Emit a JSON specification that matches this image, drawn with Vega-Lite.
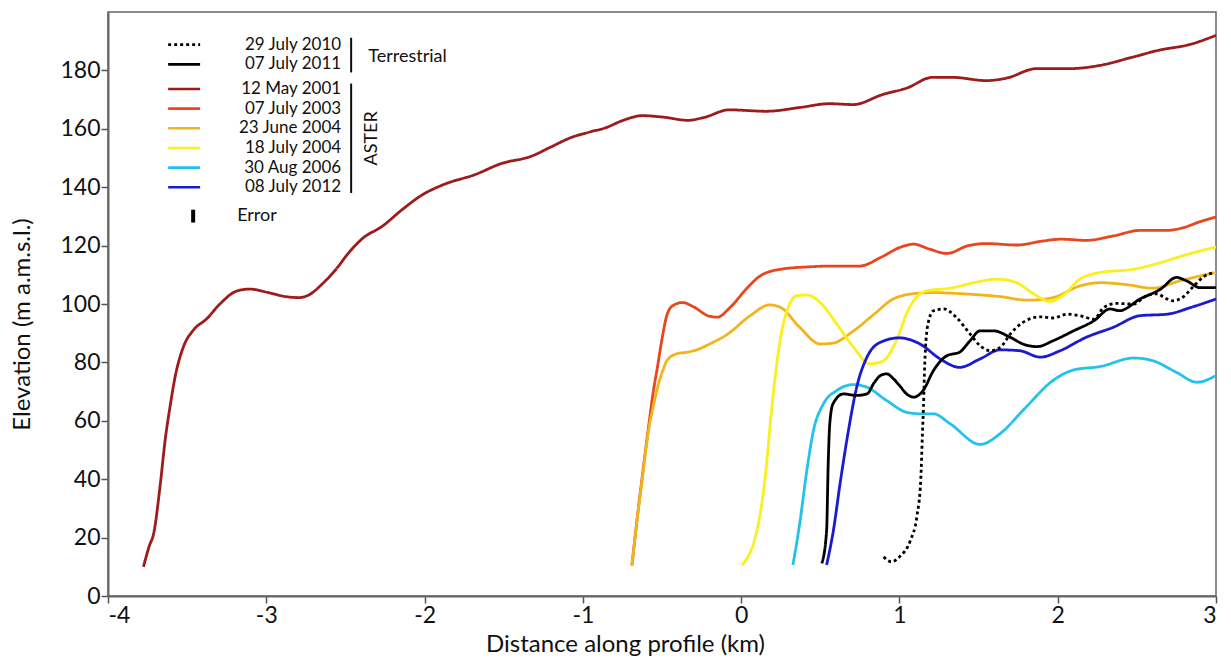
{
  "$schema": "https://vega.github.io/schema/vega-lite/v6.json",
  "width": 1108,
  "height": 584,
  "autosize": {"type": "none"},
  "padding": {"left": 108, "top": 12, "right": 15, "bottom": 74},
  "config": {
    "font": "Lato",
    "view": {"stroke": "#666666", "strokeWidth": 1.5},
    "axis": {"grid": false, "domainColor": "#666666", "domainWidth": 2, "tickColor": "#555555", "tickWidth": 1.5, "tickSize": 7, "labelFont": "Lato", "labelFontSize": 23, "labelColor": "#111111", "titleFont": "Lato", "titleFontSize": 24, "titleFontWeight": "normal", "titleColor": "#111111"}
  },
  "resolve": {"scale": {"y": "independent"}},
  "layer": [
    {
      "layer": [
        {
          "data": {"values": [
            {"series": "12 May 2001", "distance": -3.776, "elevation": 10},
            {"series": "12 May 2001", "distance": -3.74, "elevation": 17},
            {"series": "12 May 2001", "distance": -3.711, "elevation": 21.5},
            {"series": "12 May 2001", "distance": -3.669, "elevation": 38.6},
            {"series": "12 May 2001", "distance": -3.638, "elevation": 53.8},
            {"series": "12 May 2001", "distance": -3.607, "elevation": 65.2},
            {"series": "12 May 2001", "distance": -3.575, "elevation": 75.3},
            {"series": "12 May 2001", "distance": -3.523, "elevation": 85.4},
            {"series": "12 May 2001", "distance": -3.46, "elevation": 91.1},
            {"series": "12 May 2001", "distance": -3.377, "elevation": 94.9},
            {"series": "12 May 2001", "distance": -3.293, "elevation": 100},
            {"series": "12 May 2001", "distance": -3.188, "elevation": 104.4},
            {"series": "12 May 2001", "distance": -3.105, "elevation": 105.1},
            {"series": "12 May 2001", "distance": -2.979, "elevation": 103.8},
            {"series": "12 May 2001", "distance": -2.874, "elevation": 102.5},
            {"series": "12 May 2001", "distance": -2.791, "elevation": 102.2},
            {"series": "12 May 2001", "distance": -2.728, "elevation": 103.2},
            {"series": "12 May 2001", "distance": -2.644, "elevation": 107},
            {"series": "12 May 2001", "distance": -2.561, "elevation": 111.8},
            {"series": "12 May 2001", "distance": -2.477, "elevation": 117.7},
            {"series": "12 May 2001", "distance": -2.393, "elevation": 122.4},
            {"series": "12 May 2001", "distance": -2.268, "elevation": 126.6},
            {"series": "12 May 2001", "distance": -2.142, "elevation": 132.3},
            {"series": "12 May 2001", "distance": -2.017, "elevation": 137.3},
            {"series": "12 May 2001", "distance": -1.87, "elevation": 141.1},
            {"series": "12 May 2001", "distance": -1.682, "elevation": 144.3},
            {"series": "12 May 2001", "distance": -1.515, "elevation": 148.1},
            {"series": "12 May 2001", "distance": -1.326, "elevation": 150.6},
            {"series": "12 May 2001", "distance": -1.201, "elevation": 153.8},
            {"series": "12 May 2001", "distance": -1.075, "elevation": 157},
            {"series": "12 May 2001", "distance": -0.95, "elevation": 159},
            {"series": "12 May 2001", "distance": -0.859, "elevation": 160.3},
            {"series": "12 May 2001", "distance": -0.75, "elevation": 162.8},
            {"series": "12 May 2001", "distance": -0.625, "elevation": 164.5},
            {"series": "12 May 2001", "distance": -0.493, "elevation": 164},
            {"series": "12 May 2001", "distance": -0.335, "elevation": 162.9},
            {"series": "12 May 2001", "distance": -0.234, "elevation": 163.9},
            {"series": "12 May 2001", "distance": -0.076, "elevation": 166.5},
            {"series": "12 May 2001", "distance": 0.158, "elevation": 166},
            {"series": "12 May 2001", "distance": 0.372, "elevation": 167.3},
            {"series": "12 May 2001", "distance": 0.556, "elevation": 168.6},
            {"series": "12 May 2001", "distance": 0.708, "elevation": 168.3},
            {"series": "12 May 2001", "distance": 0.892, "elevation": 171.7},
            {"series": "12 May 2001", "distance": 1.049, "elevation": 174},
            {"series": "12 May 2001", "distance": 1.207, "elevation": 177.6},
            {"series": "12 May 2001", "distance": 1.339, "elevation": 177.6},
            {"series": "12 May 2001", "distance": 1.548, "elevation": 176.5},
            {"series": "12 May 2001", "distance": 1.68, "elevation": 177.4},
            {"series": "12 May 2001", "distance": 1.864, "elevation": 180.6},
            {"series": "12 May 2001", "distance": 2.072, "elevation": 180.6},
            {"series": "12 May 2001", "distance": 2.255, "elevation": 181.6},
            {"series": "12 May 2001", "distance": 2.464, "elevation": 184.4},
            {"series": "12 May 2001", "distance": 2.647, "elevation": 187},
            {"series": "12 May 2001", "distance": 2.83, "elevation": 188.8},
            {"series": "12 May 2001", "distance": 3.0, "elevation": 192},

            {"series": "07 July 2003", "distance": -0.69, "elevation": 10.5},
            {"series": "07 July 2003", "distance": -0.66, "elevation": 25},
            {"series": "07 July 2003", "distance": -0.62, "elevation": 43},
            {"series": "07 July 2003", "distance": -0.58, "elevation": 60},
            {"series": "07 July 2003", "distance": -0.555, "elevation": 70},
            {"series": "07 July 2003", "distance": -0.53, "elevation": 78},
            {"series": "07 July 2003", "distance": -0.5, "elevation": 88},
            {"series": "07 July 2003", "distance": -0.47, "elevation": 96},
            {"series": "07 July 2003", "distance": -0.43, "elevation": 99.5},
            {"series": "07 July 2003", "distance": -0.37, "elevation": 100.5},
            {"series": "07 July 2003", "distance": -0.3, "elevation": 99},
            {"series": "07 July 2003", "distance": -0.2, "elevation": 95.8},
            {"series": "07 July 2003", "distance": -0.15, "elevation": 95.5},
            {"series": "07 July 2003", "distance": -0.07, "elevation": 98.8},
            {"series": "07 July 2003", "distance": 0.04, "elevation": 105.6},
            {"series": "07 July 2003", "distance": 0.12, "elevation": 109.6},
            {"series": "07 July 2003", "distance": 0.25, "elevation": 111.9},
            {"series": "07 July 2003", "distance": 0.42, "elevation": 112.7},
            {"series": "07 July 2003", "distance": 0.58, "elevation": 113},
            {"series": "07 July 2003", "distance": 0.75, "elevation": 113},
            {"series": "07 July 2003", "distance": 0.88, "elevation": 115.9},
            {"series": "07 July 2003", "distance": 1.0, "elevation": 119.3},
            {"series": "07 July 2003", "distance": 1.09, "elevation": 120.5},
            {"series": "07 July 2003", "distance": 1.19, "elevation": 118.8},
            {"series": "07 July 2003", "distance": 1.3, "elevation": 117.3},
            {"series": "07 July 2003", "distance": 1.43, "elevation": 119.9},
            {"series": "07 July 2003", "distance": 1.55, "elevation": 120.7},
            {"series": "07 July 2003", "distance": 1.74, "elevation": 120.2},
            {"series": "07 July 2003", "distance": 1.91, "elevation": 121.6},
            {"series": "07 July 2003", "distance": 2.02, "elevation": 122.2},
            {"series": "07 July 2003", "distance": 2.18, "elevation": 121.8},
            {"series": "07 July 2003", "distance": 2.35, "elevation": 123.3},
            {"series": "07 July 2003", "distance": 2.52, "elevation": 125.2},
            {"series": "07 July 2003", "distance": 2.69, "elevation": 125.2},
            {"series": "07 July 2003", "distance": 2.79, "elevation": 126.1},
            {"series": "07 July 2003", "distance": 2.9, "elevation": 128.2},
            {"series": "07 July 2003", "distance": 3.0, "elevation": 129.8},

            {"series": "23 June 2004", "distance": -0.69, "elevation": 10.5},
            {"series": "23 June 2004", "distance": -0.66, "elevation": 25},
            {"series": "23 June 2004", "distance": -0.62, "elevation": 42},
            {"series": "23 June 2004", "distance": -0.59, "elevation": 55},
            {"series": "23 June 2004", "distance": -0.556, "elevation": 64.7},
            {"series": "23 June 2004", "distance": -0.52, "elevation": 73},
            {"series": "23 June 2004", "distance": -0.49, "elevation": 78},
            {"series": "23 June 2004", "distance": -0.47, "elevation": 80.5},
            {"series": "23 June 2004", "distance": -0.41, "elevation": 82.9},
            {"series": "23 June 2004", "distance": -0.34, "elevation": 83.5},
            {"series": "23 June 2004", "distance": -0.28, "elevation": 84.3},
            {"series": "23 June 2004", "distance": -0.2, "elevation": 86.3},
            {"series": "23 June 2004", "distance": -0.09, "elevation": 89.5},
            {"series": "23 June 2004", "distance": 0.057, "elevation": 96},
            {"series": "23 June 2004", "distance": 0.18, "elevation": 99.7},
            {"series": "23 June 2004", "distance": 0.25, "elevation": 98.8},
            {"series": "23 June 2004", "distance": 0.37, "elevation": 92},
            {"series": "23 June 2004", "distance": 0.5, "elevation": 86.3},
            {"series": "23 June 2004", "distance": 0.58, "elevation": 86.6},
            {"series": "23 June 2004", "distance": 0.71, "elevation": 90.8},
            {"series": "23 June 2004", "distance": 0.84, "elevation": 96.5},
            {"series": "23 June 2004", "distance": 0.96, "elevation": 101.7},
            {"series": "23 June 2004", "distance": 1.1, "elevation": 103.6},
            {"series": "23 June 2004", "distance": 1.21, "elevation": 103.9},
            {"series": "23 June 2004", "distance": 1.43, "elevation": 103.4},
            {"series": "23 June 2004", "distance": 1.64, "elevation": 102.5},
            {"series": "23 June 2004", "distance": 1.81, "elevation": 101.3},
            {"series": "23 June 2004", "distance": 1.97, "elevation": 102.2},
            {"series": "23 June 2004", "distance": 2.14, "elevation": 106.2},
            {"series": "23 June 2004", "distance": 2.27, "elevation": 107.3},
            {"series": "23 June 2004", "distance": 2.44, "elevation": 106.6},
            {"series": "23 June 2004", "distance": 2.6, "elevation": 105.4},
            {"series": "23 June 2004", "distance": 2.77, "elevation": 107.9},
            {"series": "23 June 2004", "distance": 2.9, "elevation": 109.6},
            {"series": "23 June 2004", "distance": 3.0, "elevation": 110.8},

            {"series": "18 July 2004", "distance": 0.004, "elevation": 10.6},
            {"series": "18 July 2004", "distance": 0.1, "elevation": 22.5},
            {"series": "18 July 2004", "distance": 0.15, "elevation": 39.6},
            {"series": "18 July 2004", "distance": 0.19, "elevation": 62.4},
            {"series": "18 July 2004", "distance": 0.225, "elevation": 79.5},
            {"series": "18 July 2004", "distance": 0.257, "elevation": 90.8},
            {"series": "18 July 2004", "distance": 0.29, "elevation": 97.7},
            {"series": "18 July 2004", "distance": 0.35, "elevation": 102.8},
            {"series": "18 July 2004", "distance": 0.415, "elevation": 103.1},
            {"series": "18 July 2004", "distance": 0.5, "elevation": 100.5},
            {"series": "18 July 2004", "distance": 0.605, "elevation": 93.1},
            {"series": "18 July 2004", "distance": 0.71, "elevation": 85.2},
            {"series": "18 July 2004", "distance": 0.815, "elevation": 79.5},
            {"series": "18 July 2004", "distance": 0.9, "elevation": 80.6},
            {"series": "18 July 2004", "distance": 0.96, "elevation": 85.2},
            {"series": "18 July 2004", "distance": 1.0, "elevation": 90},
            {"series": "18 July 2004", "distance": 1.04, "elevation": 96},
            {"series": "18 July 2004", "distance": 1.09, "elevation": 101.1},
            {"series": "18 July 2004", "distance": 1.17, "elevation": 104.5},
            {"series": "18 July 2004", "distance": 1.32, "elevation": 105.4},
            {"series": "18 July 2004", "distance": 1.47, "elevation": 107.3},
            {"series": "18 July 2004", "distance": 1.62, "elevation": 108.5},
            {"series": "18 July 2004", "distance": 1.74, "elevation": 107.3},
            {"series": "18 July 2004", "distance": 1.85, "elevation": 103.4},
            {"series": "18 July 2004", "distance": 1.95, "elevation": 100.9},
            {"series": "18 July 2004", "distance": 2.03, "elevation": 102.8},
            {"series": "18 July 2004", "distance": 2.14, "elevation": 108.5},
            {"series": "18 July 2004", "distance": 2.27, "elevation": 110.8},
            {"series": "18 July 2004", "distance": 2.48, "elevation": 111.9},
            {"series": "18 July 2004", "distance": 2.65, "elevation": 114.2},
            {"series": "18 July 2004", "distance": 2.82, "elevation": 117},
            {"series": "18 July 2004", "distance": 3.0, "elevation": 119.5},

            {"series": "30 Aug 2006", "distance": 0.327, "elevation": 10.6},
            {"series": "30 Aug 2006", "distance": 0.37, "elevation": 24.8},
            {"series": "30 Aug 2006", "distance": 0.415, "elevation": 43},
            {"series": "30 Aug 2006", "distance": 0.457, "elevation": 56.7},
            {"series": "30 Aug 2006", "distance": 0.52, "elevation": 65.8},
            {"series": "30 Aug 2006", "distance": 0.605, "elevation": 70.4},
            {"series": "30 Aug 2006", "distance": 0.71, "elevation": 72.4},
            {"series": "30 Aug 2006", "distance": 0.795, "elevation": 71.5},
            {"series": "30 Aug 2006", "distance": 0.92, "elevation": 66.9},
            {"series": "30 Aug 2006", "distance": 1.047, "elevation": 62.9},
            {"series": "30 Aug 2006", "distance": 1.13, "elevation": 62.4},
            {"series": "30 Aug 2006", "distance": 1.215, "elevation": 62.4},
            {"series": "30 Aug 2006", "distance": 1.32, "elevation": 59},
            {"series": "30 Aug 2006", "distance": 1.51, "elevation": 51.9},
            {"series": "30 Aug 2006", "distance": 1.636, "elevation": 55.6},
            {"series": "30 Aug 2006", "distance": 1.8, "elevation": 64.7},
            {"series": "30 Aug 2006", "distance": 1.97, "elevation": 73.8},
            {"series": "30 Aug 2006", "distance": 2.1, "elevation": 77.4},
            {"series": "30 Aug 2006", "distance": 2.27, "elevation": 78.6},
            {"series": "30 Aug 2006", "distance": 2.48, "elevation": 81.5},
            {"series": "30 Aug 2006", "distance": 2.6, "elevation": 80.6},
            {"series": "30 Aug 2006", "distance": 2.75, "elevation": 76.6},
            {"series": "30 Aug 2006", "distance": 2.88, "elevation": 73.2},
            {"series": "30 Aug 2006", "distance": 3.0, "elevation": 75.5},

            {"series": "08 July 2012", "distance": 0.54, "elevation": 10.6},
            {"series": "08 July 2012", "distance": 0.583, "elevation": 22.5},
            {"series": "08 July 2012", "distance": 0.625, "elevation": 38.5},
            {"series": "08 July 2012", "distance": 0.678, "elevation": 56.7},
            {"series": "08 July 2012", "distance": 0.73, "elevation": 71.5},
            {"series": "08 July 2012", "distance": 0.795, "elevation": 81.8},
            {"series": "08 July 2012", "distance": 0.88, "elevation": 86.9},
            {"series": "08 July 2012", "distance": 1.0, "elevation": 88.4},
            {"series": "08 July 2012", "distance": 1.13, "elevation": 86.3},
            {"series": "08 July 2012", "distance": 1.257, "elevation": 81.2},
            {"series": "08 July 2012", "distance": 1.38, "elevation": 78.3},
            {"series": "08 July 2012", "distance": 1.51, "elevation": 81.2},
            {"series": "08 July 2012", "distance": 1.636, "elevation": 84.3},
            {"series": "08 July 2012", "distance": 1.76, "elevation": 84},
            {"series": "08 July 2012", "distance": 1.89, "elevation": 81.8},
            {"series": "08 July 2012", "distance": 2.015, "elevation": 84},
            {"series": "08 July 2012", "distance": 2.18, "elevation": 88.6},
            {"series": "08 July 2012", "distance": 2.35, "elevation": 92},
            {"series": "08 July 2012", "distance": 2.52, "elevation": 96},
            {"series": "08 July 2012", "distance": 2.69, "elevation": 96.5},
            {"series": "08 July 2012", "distance": 2.84, "elevation": 98.8},
            {"series": "08 July 2012", "distance": 3.0, "elevation": 101.7},

            {"series": "07 July 2011", "distance": 0.51, "elevation": 11.2},
            {"series": "07 July 2011", "distance": 0.54, "elevation": 22.5},
            {"series": "07 July 2011", "distance": 0.55, "elevation": 45.3},
            {"series": "07 July 2011", "distance": 0.56, "elevation": 59},
            {"series": "07 July 2011", "distance": 0.58, "elevation": 65.8},
            {"series": "07 July 2011", "distance": 0.646, "elevation": 69.2},
            {"series": "07 July 2011", "distance": 0.73, "elevation": 68.7},
            {"series": "07 July 2011", "distance": 0.795, "elevation": 69.2},
            {"series": "07 July 2011", "distance": 0.84, "elevation": 73},
            {"series": "07 July 2011", "distance": 0.88, "elevation": 75.5},
            {"series": "07 July 2011", "distance": 0.92, "elevation": 76.1},
            {"series": "07 July 2011", "distance": 0.96, "elevation": 74.5},
            {"series": "07 July 2011", "distance": 1.0, "elevation": 72.1},
            {"series": "07 July 2011", "distance": 1.05, "elevation": 69},
            {"series": "07 July 2011", "distance": 1.09, "elevation": 68.1},
            {"series": "07 July 2011", "distance": 1.15, "elevation": 70.4},
            {"series": "07 July 2011", "distance": 1.215, "elevation": 77.2},
            {"series": "07 July 2011", "distance": 1.3, "elevation": 82.3},
            {"series": "07 July 2011", "distance": 1.38, "elevation": 83.5},
            {"series": "07 July 2011", "distance": 1.44, "elevation": 87},
            {"series": "07 July 2011", "distance": 1.51, "elevation": 90.8},
            {"series": "07 July 2011", "distance": 1.594, "elevation": 90.8},
            {"series": "07 July 2011", "distance": 1.7, "elevation": 88.6},
            {"series": "07 July 2011", "distance": 1.78, "elevation": 86.3},
            {"series": "07 July 2011", "distance": 1.87, "elevation": 85.4},
            {"series": "07 July 2011", "distance": 1.97, "elevation": 87.4},
            {"series": "07 July 2011", "distance": 2.1, "elevation": 90.8},
            {"series": "07 July 2011", "distance": 2.23, "elevation": 94.3},
            {"series": "07 July 2011", "distance": 2.33, "elevation": 98.3},
            {"series": "07 July 2011", "distance": 2.39, "elevation": 97.7},
            {"series": "07 July 2011", "distance": 2.52, "elevation": 101.7},
            {"series": "07 July 2011", "distance": 2.65, "elevation": 105.1},
            {"series": "07 July 2011", "distance": 2.75, "elevation": 109.1},
            {"series": "07 July 2011", "distance": 2.815, "elevation": 107.9},
            {"series": "07 July 2011", "distance": 2.9, "elevation": 105.6},
            {"series": "07 July 2011", "distance": 3.0, "elevation": 105.6},

            {"series": "29 July 2010", "distance": 0.9, "elevation": 13.4},
            {"series": "29 July 2010", "distance": 0.95, "elevation": 11.7},
            {"series": "29 July 2010", "distance": 1.0, "elevation": 13.4},
            {"series": "29 July 2010", "distance": 1.07, "elevation": 19.1},
            {"series": "29 July 2010", "distance": 1.11, "elevation": 27.1},
            {"series": "29 July 2010", "distance": 1.135, "elevation": 40},
            {"series": "29 July 2010", "distance": 1.145, "elevation": 55},
            {"series": "29 July 2010", "distance": 1.152, "elevation": 65},
            {"series": "29 July 2010", "distance": 1.16, "elevation": 79.5},
            {"series": "29 July 2010", "distance": 1.18, "elevation": 93.1},
            {"series": "29 July 2010", "distance": 1.215, "elevation": 97.7},
            {"series": "29 July 2010", "distance": 1.28, "elevation": 98.3},
            {"series": "29 July 2010", "distance": 1.36, "elevation": 95.4},
            {"series": "29 July 2010", "distance": 1.447, "elevation": 89.7},
            {"series": "29 July 2010", "distance": 1.51, "elevation": 85.7},
            {"series": "29 July 2010", "distance": 1.573, "elevation": 84},
            {"series": "29 July 2010", "distance": 1.636, "elevation": 85.1},
            {"series": "29 July 2010", "distance": 1.7, "elevation": 89.7},
            {"series": "29 July 2010", "distance": 1.78, "elevation": 93.7},
            {"series": "29 July 2010", "distance": 1.89, "elevation": 95.6},
            {"series": "29 July 2010", "distance": 1.97, "elevation": 95.2},
            {"series": "29 July 2010", "distance": 2.06, "elevation": 96.5},
            {"series": "29 July 2010", "distance": 2.14, "elevation": 96},
            {"series": "29 July 2010", "distance": 2.23, "elevation": 94.8},
            {"series": "29 July 2010", "distance": 2.29, "elevation": 98.8},
            {"series": "29 July 2010", "distance": 2.37, "elevation": 100.2},
            {"series": "29 July 2010", "distance": 2.48, "elevation": 100},
            {"series": "29 July 2010", "distance": 2.56, "elevation": 102.8},
            {"series": "29 July 2010", "distance": 2.63, "elevation": 103.5},
            {"series": "29 July 2010", "distance": 2.67, "elevation": 102.3},
            {"series": "29 July 2010", "distance": 2.73, "elevation": 101.1},
            {"series": "29 July 2010", "distance": 2.79, "elevation": 102.3},
            {"series": "29 July 2010", "distance": 2.86, "elevation": 106.2},
            {"series": "29 July 2010", "distance": 2.92, "elevation": 109.3},
            {"series": "29 July 2010", "distance": 2.99, "elevation": 110.8}
          ]},
          "mark": {"type": "line", "interpolate": "monotone", "strokeWidth": 2.8},
          "encoding": {
            "x": {"field": "distance", "type": "quantitative", "scale": {"domain": [-4, 3], "nice": false, "zero": false}, "axis": {"title": "Distance along profile (km)", "values": [-4, -3, -2, -1, 0, 1, 2, 3], "labelExpr": "'' + datum.value", "labelPadding": 1, "titleX": 517, "titleY": 48, "titleAlign": "center", "titleBaseline": "middle", "encode": {"ticks": {"y2": {"value": -7}}}}},
            "y": {"field": "elevation", "type": "quantitative", "scale": {"domain": [0, 200], "nice": false}, "axis": {"title": "Elevation (m a.m.s.l.)", "values": [0, 20, 40, 60, 80, 100, 120, 140, 160, 180], "labelPadding": 1, "titleX": -86, "titleY": 312, "titleAngle": 270, "titleAlign": "center", "titleBaseline": "middle", "encode": {"ticks": {"x2": {"value": 7}}}}},
            "color": {"field": "series", "type": "nominal", "scale": {"domain": ["29 July 2010", "07 July 2011", "12 May 2001", "07 July 2003", "23 June 2004", "18 July 2004", "30 Aug 2006", "08 July 2012"], "range": ["#000000", "#000000", "#9e1b1b", "#e8461c", "#f2b41c", "#fbef1c", "#22c3ea", "#1a1ad2"]}, "legend": null},
            "strokeDash": {"field": "series", "type": "nominal", "scale": {"domain": ["29 July 2010", "07 July 2011", "12 May 2001", "07 July 2003", "23 June 2004", "18 July 2004", "30 Aug 2006", "08 July 2012"], "range": [[3, 3], [1, 0], [1, 0], [1, 0], [1, 0], [1, 0], [1, 0], [1, 0]]}, "legend": null}
          }
        },
        {
          "data": {"values": [{}]},
          "mark": {"type": "rule", "color": "#111111", "strokeWidth": 2},
          "encoding": {"x": {"datum": -2.464}, "y": {"datum": 191.2}, "y2": {"datum": 179.3}}
        },
        {
          "data": {"values": [{}]},
          "mark": {"type": "rule", "color": "#111111", "strokeWidth": 2},
          "encoding": {"x": {"datum": -2.464}, "y": {"datum": 175.5}, "y2": {"datum": 138}}
        },
        {
          "data": {"values": [{}]},
          "mark": {"type": "text", "text": "Terrestrial", "align": "left", "baseline": "middle", "fontSize": 18, "font": "Lato", "color": "#111111"},
          "encoding": {"x": {"datum": -2.356}, "y": {"datum": 184.6}}
        },
        {
          "data": {"values": [{}]},
          "mark": {"type": "text", "text": "ASTER", "align": "center", "baseline": "middle", "angle": 270, "fontSize": 18, "font": "Lato", "color": "#111111"},
          "encoding": {"x": {"datum": -2.33}, "y": {"datum": 156.7}}
        },
        {
          "data": {"values": [{}]},
          "mark": {"type": "rule", "color": "#000000", "strokeWidth": 4},
          "encoding": {"x": {"datum": -3.462}, "y": {"datum": 127.9}, "y2": {"datum": 132.3}}
        },
        {
          "data": {"values": [{}]},
          "mark": {"type": "text", "text": "Error", "align": "left", "baseline": "middle", "fontSize": 18, "font": "Lato", "color": "#111111"},
          "encoding": {"x": {"datum": -3.184}, "y": {"datum": 130.1}}
        }
      ]
    },
    {
      "data": {"values": [{"series": "29 July 2010"}, {"series": "07 July 2011"}]},
      "encoding": {"y": {"field": "series", "type": "nominal", "scale": {"type": "point", "domain": ["29 July 2010", "07 July 2011"], "range": [32.6, 52.4], "padding": 0}, "axis": null}},
      "layer": [
        {"mark": {"type": "rule", "strokeWidth": 2.6}, "encoding": {"x": {"datum": -3.62}, "x2": {"datum": -3.418}, "color": {"field": "series", "type": "nominal", "legend": null}, "strokeDash": {"field": "series", "type": "nominal", "legend": null}}},
        {"mark": {"type": "text", "align": "right", "baseline": "middle", "fontSize": 17, "font": "Lato", "color": "#111111"}, "encoding": {"x": {"datum": -2.527}, "text": {"field": "series"}}}
      ]
    },
    {
      "data": {"values": [{"series": "12 May 2001"}, {"series": "07 July 2003"}, {"series": "23 June 2004"}, {"series": "18 July 2004"}, {"series": "30 Aug 2006"}, {"series": "08 July 2012"}]},
      "encoding": {"y": {"field": "series", "type": "nominal", "scale": {"type": "point", "domain": ["12 May 2001", "07 July 2003", "23 June 2004", "18 July 2004", "30 Aug 2006", "08 July 2012"], "range": [77, 175.3], "padding": 0}, "axis": null}},
      "layer": [
        {"mark": {"type": "rule", "strokeWidth": 2.6}, "encoding": {"x": {"datum": -3.62}, "x2": {"datum": -3.418}, "color": {"field": "series", "type": "nominal", "legend": null}, "strokeDash": {"field": "series", "type": "nominal", "legend": null}}},
        {"mark": {"type": "text", "align": "right", "baseline": "middle", "fontSize": 17, "font": "Lato", "color": "#111111"}, "encoding": {"x": {"datum": -2.527}, "text": {"field": "series"}}}
      ]
    }
  ]
}
